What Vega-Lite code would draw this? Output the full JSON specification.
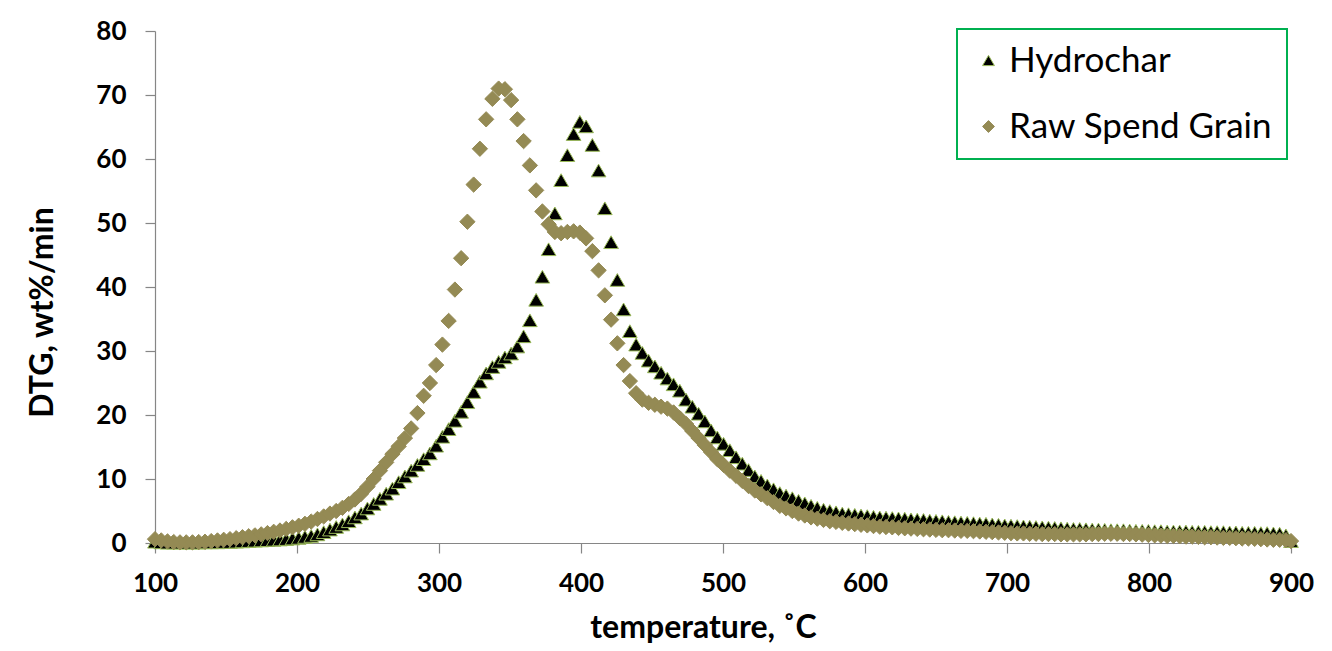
{
  "$schema": "https://vega.github.io/schema/vega-lite/v6.json",
  "width": 1136,
  "height": 512,
  "autosize": {"type": "none"},
  "padding": {"left": 155, "top": 31, "right": 41, "bottom": 108},
  "background": "white",
  "config": {
    "view": {"stroke": null},
    "font": "Lato",
    "axis": {
      "grid": false,
      "domainColor": "#868686",
      "domainWidth": 1.2,
      "tickColor": "#868686",
      "tickWidth": 1.2,
      "tickSize": 10,
      "labelFont": "Lato",
      "labelFontSize": 26,
      "labelFontWeight": "bold",
      "labelColor": "#000000",
      "labelFlush": false,
      "labelOverlap": false,
      "titleFont": "Lato",
      "titleFontSize": 32,
      "titleFontWeight": "bold",
      "titleColor": "#000000"
    },
    "legend": {
      "orient": "none",
      "legendX": 802,
      "legendY": -2,
      "padding": 14,
      "strokeColor": "#00B050",
      "strokeWidth": 2,
      "fillColor": "white",
      "labelFont": "Lato",
      "labelFontSize": 35,
      "labelColor": "#000000",
      "labelLimit": 500,
      "labelOffset": 3,
      "rowPadding": 30,
      "symbolSize": 140,
      "symbolStrokeWidth": 1,
      "title": null
    }
  },
  "datasets": {
    "hydrochar": [
      {"t": 100, "v": 0.2}, {"t": 104.4, "v": 0.1}, {"t": 108.8, "v": 0.05}, {"t": 113.2, "v": 0.05},
      {"t": 117.6, "v": 0.05}, {"t": 122, "v": 0.05}, {"t": 126.4, "v": 0.05}, {"t": 130.8, "v": 0.05},
      {"t": 135.2, "v": 0.1}, {"t": 139.6, "v": 0.1}, {"t": 144, "v": 0.1}, {"t": 148.4, "v": 0.15},
      {"t": 152.8, "v": 0.15}, {"t": 157.2, "v": 0.2}, {"t": 161.6, "v": 0.25}, {"t": 166, "v": 0.3},
      {"t": 170.4, "v": 0.35}, {"t": 174.8, "v": 0.4}, {"t": 179.2, "v": 0.45}, {"t": 183.6, "v": 0.5},
      {"t": 188, "v": 0.55}, {"t": 192.4, "v": 0.62}, {"t": 196.8, "v": 0.7}, {"t": 201.2, "v": 0.8},
      {"t": 205.6, "v": 0.95}, {"t": 210, "v": 1.1}, {"t": 214.4, "v": 1.35}, {"t": 218.8, "v": 1.7},
      {"t": 223.2, "v": 2.1}, {"t": 227.6, "v": 2.5}, {"t": 232, "v": 2.9}, {"t": 236.4, "v": 3.4},
      {"t": 240.8, "v": 4.0}, {"t": 245.2, "v": 4.6}, {"t": 249.6, "v": 5.4}, {"t": 254, "v": 6.1},
      {"t": 258.4, "v": 6.9}, {"t": 262.8, "v": 7.7}, {"t": 267.2, "v": 8.5}, {"t": 271.6, "v": 9.5},
      {"t": 276, "v": 10.4}, {"t": 280.4, "v": 11.3}, {"t": 284.8, "v": 12.2}, {"t": 289.2, "v": 13.1},
      {"t": 293.6, "v": 14.0}, {"t": 298, "v": 15.2}, {"t": 302.4, "v": 16.6}, {"t": 306.8, "v": 17.8},
      {"t": 311.2, "v": 19.1}, {"t": 315.6, "v": 20.5}, {"t": 320, "v": 22.0}, {"t": 324.4, "v": 23.6},
      {"t": 328.8, "v": 25.2}, {"t": 333.2, "v": 26.5}, {"t": 337.6, "v": 27.5}, {"t": 342, "v": 28.3},
      {"t": 346.4, "v": 29.0}, {"t": 350.8, "v": 29.6}, {"t": 355.2, "v": 30.7}, {"t": 359.6, "v": 32.3},
      {"t": 364, "v": 34.8}, {"t": 368.4, "v": 38.0}, {"t": 372.8, "v": 41.6}, {"t": 377.2, "v": 45.9},
      {"t": 381.6, "v": 51.5}, {"t": 386, "v": 56.7}, {"t": 390.4, "v": 60.6}, {"t": 394.8, "v": 63.9},
      {"t": 399.2, "v": 65.8}, {"t": 403.6, "v": 65.1}, {"t": 408, "v": 62.2}, {"t": 412.4, "v": 58.2},
      {"t": 416.8, "v": 52.3}, {"t": 421.2, "v": 47.0}, {"t": 425.6, "v": 41.1}, {"t": 430, "v": 36.5},
      {"t": 434.4, "v": 33.1}, {"t": 438.8, "v": 31.0}, {"t": 443.2, "v": 29.7}, {"t": 447.6, "v": 28.5},
      {"t": 452, "v": 27.6}, {"t": 456.4, "v": 26.6}, {"t": 460.8, "v": 25.7}, {"t": 465.2, "v": 24.8},
      {"t": 469.6, "v": 23.8}, {"t": 474, "v": 22.4}, {"t": 478.4, "v": 21.3}, {"t": 482.8, "v": 20.2},
      {"t": 487.2, "v": 19.0}, {"t": 491.6, "v": 17.6}, {"t": 496, "v": 16.5}, {"t": 500.4, "v": 15.5},
      {"t": 504.8, "v": 14.5}, {"t": 509.2, "v": 13.4}, {"t": 513.6, "v": 12.4}, {"t": 518, "v": 11.4},
      {"t": 522.4, "v": 10.4}, {"t": 526.8, "v": 9.7}, {"t": 531.2, "v": 9.0}, {"t": 535.6, "v": 8.4},
      {"t": 540, "v": 7.8}, {"t": 544.4, "v": 7.4}, {"t": 548.8, "v": 7.0}, {"t": 553.2, "v": 6.6},
      {"t": 557.6, "v": 6.2}, {"t": 562, "v": 5.8}, {"t": 566.4, "v": 5.5}, {"t": 570.8, "v": 5.2},
      {"t": 575.2, "v": 5.0}, {"t": 579.6, "v": 4.8}, {"t": 584, "v": 4.6}, {"t": 588.4, "v": 4.5},
      {"t": 592.8, "v": 4.4}, {"t": 597.2, "v": 4.3}, {"t": 601.6, "v": 4.2}, {"t": 606, "v": 4.1},
      {"t": 610.4, "v": 4.0}, {"t": 614.8, "v": 3.95}, {"t": 619.2, "v": 3.9}, {"t": 623.6, "v": 3.85},
      {"t": 628, "v": 3.8}, {"t": 632.4, "v": 3.7}, {"t": 636.8, "v": 3.65}, {"t": 641.2, "v": 3.6},
      {"t": 645.6, "v": 3.5}, {"t": 650, "v": 3.45}, {"t": 654.4, "v": 3.4}, {"t": 658.8, "v": 3.3},
      {"t": 663.2, "v": 3.25}, {"t": 667.6, "v": 3.2}, {"t": 672, "v": 3.15}, {"t": 676.4, "v": 3.1},
      {"t": 680.8, "v": 3.05}, {"t": 685.2, "v": 3.0}, {"t": 689.6, "v": 2.9}, {"t": 694, "v": 2.85},
      {"t": 698.4, "v": 2.75}, {"t": 702.8, "v": 2.7}, {"t": 707.2, "v": 2.65}, {"t": 711.6, "v": 2.6},
      {"t": 716, "v": 2.55}, {"t": 720.4, "v": 2.5}, {"t": 724.8, "v": 2.45}, {"t": 729.2, "v": 2.4},
      {"t": 733.6, "v": 2.35}, {"t": 738, "v": 2.3}, {"t": 742.4, "v": 2.25}, {"t": 746.8, "v": 2.2},
      {"t": 751.2, "v": 2.2}, {"t": 755.6, "v": 2.15}, {"t": 760, "v": 2.1}, {"t": 764.4, "v": 2.1},
      {"t": 768.8, "v": 2.05}, {"t": 773.2, "v": 2.0}, {"t": 777.6, "v": 2.0}, {"t": 782, "v": 2.0},
      {"t": 786.4, "v": 1.95}, {"t": 790.8, "v": 1.9}, {"t": 795.2, "v": 1.9}, {"t": 799.6, "v": 1.9},
      {"t": 804, "v": 1.85}, {"t": 808.4, "v": 1.85}, {"t": 812.8, "v": 1.8}, {"t": 817.2, "v": 1.8},
      {"t": 821.6, "v": 1.8}, {"t": 826, "v": 1.8}, {"t": 830.4, "v": 1.75}, {"t": 834.8, "v": 1.75},
      {"t": 839.2, "v": 1.75}, {"t": 843.6, "v": 1.7}, {"t": 848, "v": 1.7}, {"t": 852.4, "v": 1.7},
      {"t": 856.8, "v": 1.65}, {"t": 861.2, "v": 1.65}, {"t": 865.6, "v": 1.6}, {"t": 870, "v": 1.6},
      {"t": 874.4, "v": 1.6}, {"t": 878.8, "v": 1.55}, {"t": 883.2, "v": 1.55}, {"t": 887.6, "v": 1.5},
      {"t": 892, "v": 1.45}, {"t": 896.4, "v": 1.2}, {"t": 900, "v": 0.3}
    ],
    "rsg": [
      {"t": 100, "v": 0.6}, {"t": 104.4, "v": 0.4}, {"t": 108.8, "v": 0.25}, {"t": 113.2, "v": 0.15},
      {"t": 117.6, "v": 0.1}, {"t": 122, "v": 0.1}, {"t": 126.4, "v": 0.1}, {"t": 130.8, "v": 0.15},
      {"t": 135.2, "v": 0.2}, {"t": 139.6, "v": 0.3}, {"t": 144, "v": 0.4}, {"t": 148.4, "v": 0.5},
      {"t": 152.8, "v": 0.6}, {"t": 157.2, "v": 0.75}, {"t": 161.6, "v": 0.9}, {"t": 166, "v": 1.05},
      {"t": 170.4, "v": 1.2}, {"t": 174.8, "v": 1.35}, {"t": 179.2, "v": 1.55}, {"t": 183.6, "v": 1.75},
      {"t": 188, "v": 1.95}, {"t": 192.4, "v": 2.2}, {"t": 196.8, "v": 2.45}, {"t": 201.2, "v": 2.7},
      {"t": 205.6, "v": 3.0}, {"t": 210, "v": 3.35}, {"t": 214.4, "v": 3.75}, {"t": 218.8, "v": 4.15},
      {"t": 223.2, "v": 4.6}, {"t": 227.6, "v": 5.0}, {"t": 232, "v": 5.5}, {"t": 236.4, "v": 6.1},
      {"t": 240.8, "v": 6.8}, {"t": 245.2, "v": 7.7}, {"t": 249.6, "v": 8.8}, {"t": 254, "v": 10.0},
      {"t": 258.4, "v": 11.3}, {"t": 262.8, "v": 12.6}, {"t": 267.2, "v": 13.9}, {"t": 271.6, "v": 15.1},
      {"t": 276, "v": 16.4}, {"t": 280.4, "v": 17.9}, {"t": 284.8, "v": 20.3}, {"t": 289.2, "v": 23.0},
      {"t": 293.6, "v": 25.0}, {"t": 298, "v": 27.8}, {"t": 302.4, "v": 31.0}, {"t": 306.8, "v": 34.7},
      {"t": 311.2, "v": 39.6}, {"t": 315.6, "v": 44.5}, {"t": 320, "v": 50.2}, {"t": 324.4, "v": 56.0},
      {"t": 328.8, "v": 61.6}, {"t": 333.2, "v": 66.2}, {"t": 337.6, "v": 69.4}, {"t": 342, "v": 71.0},
      {"t": 346.4, "v": 70.9}, {"t": 350.8, "v": 69.2}, {"t": 355.2, "v": 66.2}, {"t": 359.6, "v": 62.8},
      {"t": 364, "v": 59.0}, {"t": 368.4, "v": 55.1}, {"t": 372.8, "v": 51.8}, {"t": 377.2, "v": 49.8},
      {"t": 381.6, "v": 48.6}, {"t": 386, "v": 48.4}, {"t": 390.4, "v": 48.6}, {"t": 394.8, "v": 48.7},
      {"t": 399.2, "v": 48.5}, {"t": 403.6, "v": 47.6}, {"t": 408, "v": 45.6}, {"t": 412.4, "v": 42.6},
      {"t": 416.8, "v": 38.7}, {"t": 421.2, "v": 34.9}, {"t": 425.6, "v": 31.2}, {"t": 430, "v": 27.8},
      {"t": 434.4, "v": 25.3}, {"t": 438.8, "v": 23.4}, {"t": 443.2, "v": 22.4}, {"t": 447.6, "v": 21.9},
      {"t": 452, "v": 21.6}, {"t": 456.4, "v": 21.3}, {"t": 460.8, "v": 21.0}, {"t": 465.2, "v": 20.4},
      {"t": 469.6, "v": 19.5}, {"t": 474, "v": 18.6}, {"t": 478.4, "v": 17.5}, {"t": 482.8, "v": 16.4},
      {"t": 487.2, "v": 15.3}, {"t": 491.6, "v": 14.2}, {"t": 496, "v": 13.1}, {"t": 500.4, "v": 12.2},
      {"t": 504.8, "v": 11.3}, {"t": 509.2, "v": 10.5}, {"t": 513.6, "v": 9.7}, {"t": 518, "v": 8.9},
      {"t": 522.4, "v": 8.2}, {"t": 526.8, "v": 7.6}, {"t": 531.2, "v": 7.0}, {"t": 535.6, "v": 6.4},
      {"t": 540, "v": 5.8}, {"t": 544.4, "v": 5.4}, {"t": 548.8, "v": 5.0}, {"t": 553.2, "v": 4.6},
      {"t": 557.6, "v": 4.3}, {"t": 562, "v": 4.0}, {"t": 566.4, "v": 3.8}, {"t": 570.8, "v": 3.6},
      {"t": 575.2, "v": 3.4}, {"t": 579.6, "v": 3.3}, {"t": 584, "v": 3.15}, {"t": 588.4, "v": 3.05},
      {"t": 592.8, "v": 2.95}, {"t": 597.2, "v": 2.85}, {"t": 601.6, "v": 2.75}, {"t": 606, "v": 2.65},
      {"t": 610.4, "v": 2.55}, {"t": 614.8, "v": 2.5}, {"t": 619.2, "v": 2.45}, {"t": 623.6, "v": 2.35},
      {"t": 628, "v": 2.3}, {"t": 632.4, "v": 2.25}, {"t": 636.8, "v": 2.2}, {"t": 641.2, "v": 2.15},
      {"t": 645.6, "v": 2.1}, {"t": 650, "v": 2.05}, {"t": 654.4, "v": 2.0}, {"t": 658.8, "v": 2.0},
      {"t": 663.2, "v": 1.95}, {"t": 667.6, "v": 1.9}, {"t": 672, "v": 1.9}, {"t": 676.4, "v": 1.85},
      {"t": 680.8, "v": 1.8}, {"t": 685.2, "v": 1.75}, {"t": 689.6, "v": 1.7}, {"t": 694, "v": 1.65},
      {"t": 698.4, "v": 1.6}, {"t": 702.8, "v": 1.55}, {"t": 707.2, "v": 1.5}, {"t": 711.6, "v": 1.5},
      {"t": 716, "v": 1.45}, {"t": 720.4, "v": 1.45}, {"t": 724.8, "v": 1.4}, {"t": 729.2, "v": 1.4},
      {"t": 733.6, "v": 1.4}, {"t": 738, "v": 1.35}, {"t": 742.4, "v": 1.35}, {"t": 746.8, "v": 1.35},
      {"t": 751.2, "v": 1.35}, {"t": 755.6, "v": 1.35}, {"t": 760, "v": 1.4}, {"t": 764.4, "v": 1.4},
      {"t": 768.8, "v": 1.45}, {"t": 773.2, "v": 1.45}, {"t": 777.6, "v": 1.45}, {"t": 782, "v": 1.4},
      {"t": 786.4, "v": 1.4}, {"t": 790.8, "v": 1.35}, {"t": 795.2, "v": 1.3}, {"t": 799.6, "v": 1.25},
      {"t": 804, "v": 1.2}, {"t": 808.4, "v": 1.15}, {"t": 812.8, "v": 1.1}, {"t": 817.2, "v": 1.1},
      {"t": 821.6, "v": 1.05}, {"t": 826, "v": 1.0}, {"t": 830.4, "v": 1.0}, {"t": 834.8, "v": 0.95},
      {"t": 839.2, "v": 0.9}, {"t": 843.6, "v": 0.9}, {"t": 848, "v": 0.85}, {"t": 852.4, "v": 0.8},
      {"t": 856.8, "v": 0.8}, {"t": 861.2, "v": 0.75}, {"t": 865.6, "v": 0.7}, {"t": 870, "v": 0.7},
      {"t": 874.4, "v": 0.65}, {"t": 878.8, "v": 0.6}, {"t": 883.2, "v": 0.55}, {"t": 887.6, "v": 0.5},
      {"t": 892, "v": 0.5}, {"t": 896.4, "v": 0.45}, {"t": 900, "v": 0.3}
    ]
  },
  "encoding": {
    "x": {
      "field": "t",
      "type": "quantitative",
      "scale": {"domain": [100, 900], "nice": false, "zero": false},
      "axis": {
        "values": [100, 200, 300, 400, 500, 600, 700, 800, 900],
        "labelPadding": 17,
        "title": "temperature, ˚C",
        "titleX": 548,
        "titleY": 94,
        "titleAlign": "center",
        "titleBaseline": "alphabetic"
      }
    },
    "y": {
      "field": "v",
      "type": "quantitative",
      "scale": {"domain": [0, 80], "nice": false},
      "axis": {
        "values": [0, 10, 20, 30, 40, 50, 60, 70, 80],
        "labelPadding": 19,
        "title": "DTG, wt%/min",
        "titleAngle": -90,
        "titleX": -103,
        "titleY": 281,
        "titleAlign": "center",
        "titleBaseline": "alphabetic"
      }
    }
  },
  "layer": [
    {
      "data": {"name": "hydrochar"},
      "mark": {"type": "point", "filled": true, "size": 215, "strokeWidth": 1, "opacity": 1},
      "encoding": {
        "shape": {
          "datum": "Hydrochar",
          "type": "nominal",
          "scale": {"domain": ["Hydrochar", "Raw Spend Grain"], "range": ["triangle-up", "diamond"]}
        },
        "fill": {
          "datum": "Hydrochar",
          "type": "nominal",
          "scale": {"domain": ["Hydrochar", "Raw Spend Grain"], "range": ["#000000", "#948A54"]}
        },
        "stroke": {
          "datum": "Hydrochar",
          "type": "nominal",
          "scale": {"domain": ["Hydrochar", "Raw Spend Grain"], "range": ["#9BBB59", "#948A54"]}
        }
      }
    },
    {
      "data": {"name": "rsg"},
      "mark": {"type": "point", "filled": true, "size": 235, "strokeWidth": 1, "opacity": 1},
      "encoding": {
        "shape": {"datum": "Raw Spend Grain", "type": "nominal"},
        "fill": {"datum": "Raw Spend Grain", "type": "nominal"},
        "stroke": {"datum": "Raw Spend Grain", "type": "nominal"}
      }
    }
  ]
}
